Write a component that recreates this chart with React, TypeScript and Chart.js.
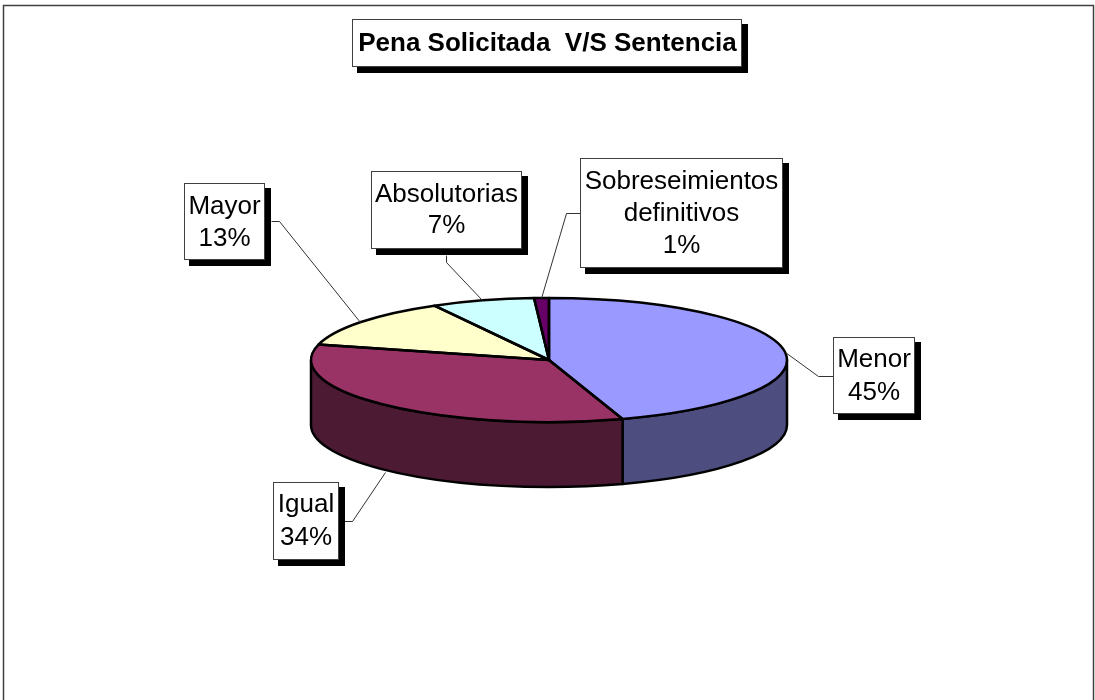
import React, { useEffect, useRef } from "react";
import { Chart, registerables } from "chart.js";

Chart.register(...registerables);

const categories = ["Menor", "Igual", "Mayor", "Absolutorias", "Sobreseimientos definitivos"];
const values = [45, 34, 13, 7, 1];
const topColors = ["#9999FF", "#993366", "#FFFFCC", "#CCFFFF", "#660066"];
const wallColors = ["#4D4D80", "#4D1A33", "#808066", "#668080", "#330033"];
const titleText = "Pena Solicitada  V/S Sentencia";

const SQUASH = 62 / 238;
const DEPTH = 65;
const FONT = '"Liberation Sans", Arial, sans-serif';

type Callout = {
  lines: string[];
  box: [number, number, number, number];
  baselines: number[];
  leader: [number, number][];
};

const pct = (i: number) => `${values[i]}%`;

const callouts: Callout[] = [
  { lines: ["Menor", pct(0)], box: [833, 337, 915, 414], baselines: [367, 400],
    leader: [[833, 376], [818, 376], [785, 352]] },
  { lines: ["Igual", pct(1)], box: [273, 482, 339, 560], baselines: [512, 545],
    leader: [[344, 521], [352, 521], [385, 472]] },
  { lines: ["Mayor", pct(2)], box: [184, 183, 265, 260], baselines: [214, 246],
    leader: [[271, 221], [279, 221], [360, 322]] },
  { lines: ["Absolutorias", pct(3)], box: [371, 171, 522, 249], baselines: [202, 233],
    leader: [[446, 255], [446, 262], [482, 300]] },
  { lines: ["Sobreseimientos", "definitivos", pct(4)], box: [580, 158, 783, 268], baselines: [189, 221, 253],
    leader: [[580, 213], [566, 213], [541, 298]] },
];

function drawBox(ctx: CanvasRenderingContext2D, b: [number, number, number, number]) {
  const [l, t, r, bt] = b;
  ctx.fillStyle = "#000";
  ctx.fillRect(l + 5, t + 5, r - l + 1, bt - t + 1);
  ctx.fillStyle = "#fff";
  ctx.fillRect(l, t, r - l, bt - t);
  ctx.strokeStyle = "#404040";
  ctx.lineWidth = 1;
  ctx.strokeRect(l + 0.5, t + 0.5, r - l - 1, bt - t - 1);
}

const piePlugin = {
  id: "pie3d",
  beforeDraw(chart: any) {
    const ctx = chart.ctx as CanvasRenderingContext2D;
    ctx.save();
    ctx.fillStyle = "#fff";
    ctx.fillRect(0, 0, chart.width, chart.height);
    ctx.strokeStyle = "#404040";
    ctx.lineWidth = 1.5;
    ctx.strokeRect(3.5, 5.5, 1090, 800);
    ctx.restore();
  },
  beforeDatasetsDraw(chart: any) {
    const ctx = chart.ctx as CanvasRenderingContext2D;
    const arcs = chart.getDatasetMeta(0).data;
    ctx.save();
    ctx.lineWidth = 2.5;
    ctx.strokeStyle = "#000";
    ctx.lineJoin = "round";
    arcs.forEach((a: any, i: number) => {
      const s = Math.max(a.startAngle, 0);
      const e = Math.min(a.endAngle, Math.PI);
      if (e <= s) return;
      const rx = a.outerRadius;
      const ry = rx * SQUASH;
      ctx.beginPath();
      ctx.ellipse(a.x, a.y, rx, ry, 0, s, e, false);
      ctx.ellipse(a.x, a.y + DEPTH, rx, ry, 0, e, s, true);
      ctx.closePath();
      ctx.fillStyle = wallColors[i];
      ctx.fill();
      ctx.stroke();
    });
    ctx.restore();
    const a0 = arcs[0];
    ctx.save();
    ctx.translate(a0.x, a0.y);
    ctx.scale(1, SQUASH);
    ctx.translate(-a0.x, -a0.y);
  },
  afterDatasetsDraw(chart: any) {
    const ctx = chart.ctx as CanvasRenderingContext2D;
    ctx.restore();
    const arcs = chart.getDatasetMeta(0).data;
    ctx.save();
    ctx.lineWidth = 2.5;
    ctx.strokeStyle = "#000";
    ctx.lineJoin = "round";
    arcs.forEach((a: any) => {
      const rx = a.outerRadius;
      const ry = rx * SQUASH;
      ctx.beginPath();
      ctx.moveTo(a.x, a.y);
      ctx.ellipse(a.x, a.y, rx, ry, 0, a.startAngle, a.endAngle, false);
      ctx.closePath();
      ctx.stroke();
    });
    ctx.restore();
  },
  afterDraw(chart: any) {
    const ctx = chart.ctx as CanvasRenderingContext2D;
    ctx.save();
    ctx.lineWidth = 1;
    ctx.strokeStyle = "#333";
    callouts.forEach((c) => {
      ctx.beginPath();
      c.leader.forEach(([x, y], i) => (i ? ctx.lineTo(x + 0.5, y + 0.5) : ctx.moveTo(x + 0.5, y + 0.5)));
      ctx.stroke();
    });
    ctx.textAlign = "center";
    ctx.textBaseline = "alphabetic";
    callouts.forEach((c) => {
      drawBox(ctx, c.box);
      ctx.fillStyle = "#000";
      ctx.font = `26px ${FONT}`;
      const cx = (c.box[0] + c.box[2]) / 2;
      c.lines.forEach((t, i) => ctx.fillText(t, cx, c.baselines[i]));
    });
    drawBox(ctx, [352, 19, 742, 67]);
    ctx.fillStyle = "#000";
    ctx.font = `bold 26px ${FONT}`;
    ctx.fillText(titleText, 547.5, 51);
    ctx.restore();
  },
};

export default function App() {
  const ref = useRef<HTMLCanvasElement>(null);
  useEffect(() => {
    document.body.style.margin = "0";
    const chart = new Chart(ref.current!, {
      type: "pie",
      data: {
        labels: categories,
        datasets: [{ data: values, backgroundColor: topColors, borderWidth: 0 }],
      },
      options: {
        animation: false,
        responsive: false,
        layout: { padding: { left: 311, right: 308, top: 122, bottom: 102 } },
        plugins: { legend: { display: false }, tooltip: { enabled: false } },
      },
      plugins: [piePlugin],
    } as any);
    return () => chart.destroy();
  }, []);
  return <canvas ref={ref} width={1095} height={700} style={{ display: "block" }} />;
}
